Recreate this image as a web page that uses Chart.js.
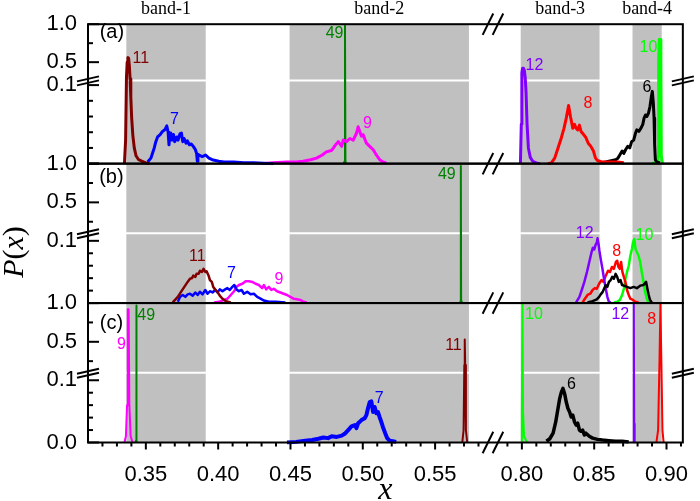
<!DOCTYPE html>
<html>
<head>
<meta charset="utf-8">
<script src="https://cdn.jsdelivr.net/npm/chart.js@4.4.1/dist/chart.umd.min.js"></script>
<style>
  html, body { margin: 0; padding: 0; background: #fff; }
  canvas { display: block; }
</style>
</head>
<body>
<canvas id="chart" width="700" height="501"></canvas>
<script>
// ---- axis setup -------------------------------------------------------
const xSegments = [[0.31, 0.59], [0.78, 0.9113]];   // broken x axis
const xTickValues = [0.32, 0.33, 0.34, 0.35, 0.36, 0.37, 0.38, 0.39, 0.40, 0.41, 0.42, 0.43, 0.44,
  0.45, 0.46, 0.47, 0.48, 0.49, 0.50, 0.51, 0.52, 0.53, 0.54, 0.55, 0.56, 0.57, 0.58,
  0.79, 0.80, 0.81, 0.82, 0.83, 0.84, 0.85, 0.86, 0.87, 0.88, 0.89, 0.90, 0.91];
const xMajorTicks = [0.35, 0.40, 0.45, 0.50, 0.55, 0.80, 0.85, 0.90];
const xMajorLabels = ['0.35', '0.40', '0.45', '0.50', '0.55', '0.80', '0.85', '0.90'];
const yTickValues = [0, 0.02, 0.04, 0.06, 0.08, 0.1, 0.25, 0.5, 0.75, 1.0];
const yTickText = ['0.0', '', '', '', '', '0.1', '', '0.5', '', '1.0'];
const yMajorTicks = [0, 0.1, 0.5, 1.0];

// shaded bands
const bandNames = ['band-1', 'band-2', 'band-3', 'band-4'];
const bandStart = [0.3365, 0.4494, 0.7992, 0.8765];
const bandEnd = [0.3914, 0.5734, 0.8537, 0.8967];

// ---- panel (a) --------------------------------------------------------
const a11 = [[0.3352,0],[0.3360,0.03],[0.3366,0.30],[0.3371,0.50],[0.3376,0.56],[0.3381,0.55],[0.3386,0.45],
  [0.3391,0.28],[0.3396,0.085],[0.3402,0.058],[0.3410,0.036],[0.3420,0.020],[0.3432,0.010],[0.3450,0.005],
  [0.3475,0.003],[0.3500,0.001],[0.3525,0]];
const a7 = [[0.3512,0.002],[0.3535,0.007],[0.3558,0.020],[0.3569,0.028],[0.3581,0.034],[0.3599,0.037],
  [0.3615,0.041],[0.3631,0.043],[0.3645,0.048],[0.3654,0.040],[0.3660,0.024],[0.3667,0.038],[0.3672,0.039],
  [0.3682,0.030],[0.3691,0.037],[0.3700,0.028],[0.3714,0.034],[0.3723,0.030],[0.3736,0.038],[0.3746,0.039],
  [0.3755,0.028],[0.3764,0.032],[0.3778,0.026],[0.3787,0.029],[0.3801,0.024],[0.3814,0.025],[0.3828,0.022],
  [0.3842,0.018],[0.3851,0.013],[0.3856,0.003],[0.3860,0.012],[0.3867,0.011],[0.3890,0.009],[0.3913,0.011],
  [0.3936,0.007],[0.3959,0.005],[0.3981,0.004],[0.4004,0.003],[0.4039,0.002],[0.4107,0.002],[0.4176,0.001],
  [0.4245,0.001],[0.4382,0]];
const a9 = [[0.4300,0],[0.4380,0.001],[0.4474,0.002],[0.4540,0.002],[0.4588,0.003],[0.4640,0.005],
  [0.4680,0.007],[0.4720,0.011],[0.4748,0.015],[0.4770,0.016],[0.4785,0.017],[0.4808,0.023],[0.4831,0.028],
  [0.4854,0.022],[0.4865,0.030],[0.4888,0.028],[0.4911,0.032],[0.4934,0.030],[0.4957,0.039],[0.4968,0.047],
  [0.4979,0.041],[0.4991,0.035],[0.5002,0.037],[0.5025,0.026],[0.5048,0.022],[0.5071,0.018],[0.5094,0.011],
  [0.5117,0.005],[0.5140,0.002],[0.5163,0.001]];
const a49 = [[0.4868,0],[0.4874,0.003],[0.4877,0.98],[0.4880,0.003],[0.4886,0]];
const a12 = [[0.7990,0],[0.7996,0.05],[0.8000,0.36],[0.8005,0.42],[0.8011,0.42],[0.8017,0.39],[0.8023,0.30],
  [0.8029,0.09],[0.8036,0.05],[0.8045,0.02],[0.8058,0.008],[0.8075,0.003],[0.8100,0.001],[0.8125,0]];
const a8 = [[0.8180,0],[0.8204,0.001],[0.8227,0.007],[0.8250,0.020],[0.8273,0.033],[0.8291,0.045],
  [0.8307,0.058],[0.8323,0.074],[0.8336,0.060],[0.8352,0.045],[0.8364,0.050],[0.8375,0.045],[0.8386,0.043],
  [0.8398,0.049],[0.8409,0.041],[0.8427,0.037],[0.8443,0.033],[0.8459,0.026],[0.8477,0.022],[0.8495,0.016],
  [0.8509,0.007],[0.8523,0.004],[0.8557,0.002],[0.8614,0.002],[0.8659,0.002],[0.8705,0.001]];
const a6 = [[0.8545,0.001],[0.8580,0.002],[0.8602,0.003],[0.8625,0.004],[0.8648,0.005],[0.8664,0.007],
  [0.8677,0.011],[0.8693,0.016],[0.8705,0.013],[0.8718,0.018],[0.8732,0.022],[0.8746,0.020],[0.8759,0.028],
  [0.8773,0.030],[0.8786,0.039],[0.8795,0.043],[0.8809,0.041],[0.8823,0.045],[0.8836,0.050],[0.8845,0.058],
  [0.8855,0.062],[0.8864,0.060],[0.8875,0.064],[0.8886,0.073],[0.8895,0.085],[0.8902,0.092],[0.8909,0.077],
  [0.8914,0.058],[0.8918,0.024],[0.8923,0.005],[0.8932,0.002],[0.8955,0.001]];
const a10 = [[0.8900,0],[0.8935,0.002],[0.8943,0.01],[0.8946,0.5],[0.8950,0.80],[0.8957,0.80],[0.8961,0.5],
  [0.8964,0.01],[0.8972,0]];

// ---- panel (b) --------------------------------------------------------
const b11 = [[0.3686,0.001],[0.3721,0.010],[0.3743,0.018],[0.3766,0.026],[0.3789,0.034],[0.3805,0.039],
  [0.3819,0.040],[0.3828,0.044],[0.3842,0.042],[0.3851,0.047],[0.3865,0.047],[0.3874,0.052],[0.3888,0.050],
  [0.3899,0.055],[0.3911,0.050],[0.3920,0.051],[0.3934,0.044],[0.3943,0.037],[0.3956,0.034],[0.3966,0.026],
  [0.3979,0.022],[0.3995,0.018],[0.4011,0.012],[0.4030,0.007],[0.4053,0.003],[0.4087,0.001]];
const b7 = [[0.3721,0.002],[0.3737,0.010],[0.3755,0.013],[0.3773,0.010],[0.3789,0.014],[0.3805,0.015],
  [0.3824,0.012],[0.3842,0.017],[0.3858,0.013],[0.3874,0.018],[0.3892,0.014],[0.3911,0.021],[0.3927,0.015],
  [0.3943,0.019],[0.3961,0.017],[0.3979,0.021],[0.3995,0.017],[0.4011,0.022],[0.4030,0.019],[0.4048,0.022],
  [0.4064,0.024],[0.4080,0.021],[0.4098,0.026],[0.4112,0.029],[0.4126,0.022],[0.4144,0.019],[0.4162,0.021],
  [0.4178,0.015],[0.4201,0.018],[0.4224,0.014],[0.4247,0.015],[0.4270,0.010],[0.4293,0.007],[0.4316,0.004],
  [0.4350,0.002],[0.4396,0.002],[0.4465,0.001]];
const b9 = [[0.3972,0.001],[0.4007,0.002],[0.4041,0.005],[0.4064,0.007],[0.4087,0.013],[0.4110,0.019],
  [0.4126,0.026],[0.4144,0.029],[0.4167,0.031],[0.4190,0.035],[0.4213,0.035],[0.4236,0.034],[0.4259,0.031],
  [0.4281,0.029],[0.4304,0.024],[0.4316,0.029],[0.4332,0.022],[0.4350,0.026],[0.4368,0.021],[0.4385,0.023],
  [0.4407,0.019],[0.4430,0.017],[0.4453,0.015],[0.4476,0.013],[0.4499,0.010],[0.4522,0.007],[0.4545,0.006],
  [0.4568,0.005],[0.4591,0.002],[0.4613,0.001]];
const b49 = [[0.5672,0],[0.5676,0.003],[0.5678,0.97],[0.5680,0.003],[0.5684,0]];
const b12 = [[0.8375,0.001],[0.8398,0.010],[0.8414,0.021],[0.8432,0.034],[0.8450,0.050],[0.8466,0.066],
  [0.8482,0.082],[0.8491,0.089],[0.8500,0.086],[0.8509,0.093],[0.8518,0.097],[0.8523,0.104],[0.8530,0.095],
  [0.8536,0.084],[0.8545,0.071],[0.8557,0.055],[0.8568,0.039],[0.8580,0.023],[0.8591,0.010],[0.8602,0.002],
  [0.8614,0.001]];
const b8 = [[0.8420,0.001],[0.8436,0.007],[0.8454,0.013],[0.8473,0.015],[0.8489,0.021],[0.8505,0.024],
  [0.8518,0.023],[0.8534,0.031],[0.8550,0.037],[0.8564,0.034],[0.8580,0.044],[0.8596,0.052],[0.8609,0.050],
  [0.8623,0.058],[0.8636,0.055],[0.8650,0.066],[0.8659,0.068],[0.8668,0.058],[0.8677,0.055],[0.8686,0.066],
  [0.8695,0.050],[0.8705,0.042],[0.8716,0.034],[0.8727,0.021],[0.8739,0.013],[0.8750,0.007],[0.8768,0.005],
  [0.8784,0.002],[0.8807,0.001]];
const b6 = [[0.8454,0.001],[0.8489,0.003],[0.8518,0.006],[0.8534,0.010],[0.8545,0.014],[0.8559,0.018],
  [0.8568,0.023],[0.8580,0.029],[0.8591,0.026],[0.8602,0.034],[0.8614,0.037],[0.8625,0.042],[0.8636,0.039],
  [0.8648,0.047],[0.8659,0.042],[0.8670,0.034],[0.8682,0.037],[0.8693,0.029],[0.8705,0.028],[0.8727,0.026],
  [0.8750,0.024],[0.8773,0.026],[0.8795,0.024],[0.8818,0.028],[0.8841,0.029],[0.8859,0.034],[0.8868,0.023],
  [0.8877,0.013],[0.8886,0.005],[0.8898,0.001]];
const b10 = [[0.8636,0.001],[0.8659,0.002],[0.8677,0.005],[0.8693,0.013],[0.8705,0.023],[0.8716,0.039],
  [0.8727,0.050],[0.8739,0.060],[0.8750,0.076],[0.8761,0.087],[0.8768,0.097],[0.8777,0.103],[0.8786,0.087],
  [0.8795,0.082],[0.8807,0.076],[0.8818,0.066],[0.8829,0.050],[0.8841,0.034],[0.8852,0.018],[0.8864,0.007],
  [0.8875,0.001]];

// ---- panel (c) --------------------------------------------------------
const c9 = [[0.3352,0],[0.3362,0.01],[0.3370,0.06],[0.3375,0.92],[0.3381,0.92],[0.3386,0.06],[0.3395,0.01],[0.3408,0]];
const c49 = [[0.3428,0],[0.3432,0.003],[0.3434,0.97],[0.3436,0.003],[0.3440,0]];
const c7 = [[0.4476,0],[0.4540,0.001],[0.4602,0.003],[0.4650,0.004],[0.4693,0.006],[0.4728,0.008],
  [0.4760,0.007],[0.4785,0.010],[0.4820,0.009],[0.4854,0.011],[0.4875,0.014],[0.4899,0.020],[0.4922,0.026],
  [0.4945,0.028],[0.4956,0.023],[0.4968,0.031],[0.4991,0.036],[0.5013,0.039],[0.5025,0.044],[0.5036,0.055],
  [0.5048,0.065],[0.5059,0.066],[0.5071,0.049],[0.5082,0.057],[0.5094,0.047],[0.5105,0.049],[0.5116,0.041],
  [0.5128,0.033],[0.5139,0.025],[0.5155,0.015],[0.5169,0.007],[0.5185,0.003],[0.5208,0.002],[0.5231,0.001]];
const c11 = [[0.5688,0],[0.5697,0.02],[0.5702,0.2],[0.5705,0.53],[0.5708,0.2],[0.5713,0.02],[0.5722,0]];
const c10 = [[0.7996,0],[0.8000,0.05],[0.8004,0.99],[0.8008,0.05],[0.8015,0.01],[0.8030,0.003],[0.8040,0]];
const c6 = [[0.8170,0.002],[0.8193,0.006],[0.8216,0.015],[0.8234,0.033],[0.8250,0.055],[0.8261,0.070],
  [0.8273,0.081],[0.8284,0.087],[0.8296,0.078],[0.8307,0.065],[0.8318,0.055],[0.8330,0.049],[0.8341,0.041],
  [0.8352,0.044],[0.8364,0.033],[0.8375,0.028],[0.8386,0.031],[0.8398,0.020],[0.8409,0.018],[0.8420,0.020],
  [0.8432,0.012],[0.8443,0.015],[0.8466,0.010],[0.8489,0.007],[0.8523,0.005],[0.8557,0.004],[0.8602,0.003],
  [0.8648,0.002],[0.8693,0.002],[0.8739,0.001]];
const c12 = [[0.8770,0],[0.8773,0.03],[0.8775,0.99],[0.8777,0.03],[0.8780,0]];
const c8 = [[0.8930,0],[0.8942,0.02],[0.8952,0.3],[0.8958,0.99],[0.8964,0.3],[0.8972,0.02],[0.8980,0]];

const seriesColor = { 6: '#000000', 7: '#0000ff', 8: '#ff0000', 9: '#ff00ff',
  10: '#00ff00', 11: '#800000', 12: '#8000ff', 49: '#008000' };

// [points, series number, panel axis, line width]
const seriesList = [
  [a11, 11, 'ya', 3], [a7, 7, 'ya', 3], [a9, 9, 'ya', 3], [a49, 49, 'ya', 2],
  [a12, 12, 'ya', 3], [a8, 8, 'ya', 3], [a6, 6, 'ya', 3], [a10, 10, 'ya', 3],
  [b11, 11, 'yb', 2.5], [b7, 7, 'yb', 2.5], [b9, 9, 'yb', 2.5], [b49, 49, 'yb', 2],
  [b6, 6, 'yb', 2.5], [b12, 12, 'yb', 2.5], [b8, 8, 'yb', 2.5], [b10, 10, 'yb', 2.5],
  [c9, 9, 'yc', 2], [c49, 49, 'yc', 2], [c7, 7, 'yc', 4], [c11, 11, 'yc', 2],
  [c10, 10, 'yc', 2], [c6, 6, 'yc', 3.5], [c12, 12, 'yc', 2], [c8, 8, 'yc', 2]
];

// text annotations: [axis, text, x value, y value]
const seriesLabels = [
  ['ya', '11', 0.3465, 0.543], ['ya', '7', 0.3698, 0.0555], ['ya', '49', 0.4805, 0.87], ['ya', '9', 0.5033, 0.0514],
  ['ya', '12', 0.8087, 0.456], ['ya', '8', 0.8457, 0.0766], ['ya', '6', 0.8864, 0.0964], ['ya', '10', 0.8875, 0.696],
  ['yb', '11', 0.3856, 0.0741], ['yb', '7', 0.4092, 0.0475], ['yb', '9', 0.4421, 0.038], ['yb', '49', 0.5581, 0.859],
  ['yb', '12', 0.8434, 0.112], ['yb', '8', 0.8656, 0.0831], ['yb', '10', 0.8848, 0.1086],
  ['yc', '9', 0.3331, 0.467], ['yc', '49', 0.3502, 0.841], ['yc', '7', 0.5113, 0.0712], ['yc', '11', 0.5627, 0.445],
  ['yc', '10', 0.8084, 0.854], ['yc', '6', 0.8343, 0.0925], ['yc', '12', 0.8681, 0.854], ['yc', '8', 0.8898, 0.79]
];
const panelLetters = [['ya', '(a)', 0.3265, 0.892], ['yb', '(b)', 0.3262, 0.817], ['yc', '(c)', 0.3262, 0.73]];

const sans = '"Liberation Sans", Arial, sans-serif';
const serif = '"Liberation Serif", "Times New Roman", serif';

// ---- scales with breaks ----------------------------------------------
class BrokenX extends Chart.LinearScale {
  determineDataLimits() {
    this.min = xSegments[0][0];
    this.max = xSegments[1][1];
  }
  buildTicks() {
    return xTickValues.map(v => ({ value: v }));
  }
  getPixelForValue(v) {
    const s0 = xSegments[0], s1 = xSegments[1];
    const w0 = s0[1] - s0[0];
    const span = w0 + (s1[1] - s1[0]);
    let d;
    if (v <= s0[1]) d = v - s0[0];
    else if (v < s1[0]) d = w0;
    else d = w0 + (v - s1[0]);
    return this.left + d / span * (this.right - this.left);
  }
  getValueForPixel(p) {
    const s0 = xSegments[0], s1 = xSegments[1];
    const w0 = s0[1] - s0[0];
    const span = w0 + (s1[1] - s1[0]);
    const d = (p - this.left) / (this.right - this.left) * span;
    return d <= w0 ? s0[0] + d : s1[0] + d - w0;
  }
  getBreakPixel() {
    return this.getPixelForValue(xSegments[0][1]);
  }
}
BrokenX.id = 'brokenX';
BrokenX.defaults = {};

class BrokenY extends Chart.LinearScale {
  determineDataLimits() {
    this.min = 0;
    this.max = 1;
  }
  buildTicks() {
    const o = this.options;
    return yTickValues.filter(v => v <= o.lowerMax || v >= o.upperMin).map(v => ({ value: v }));
  }
  getBreakPixel() {
    return this.bottom - (this.bottom - this.top) * this.options.split;
  }
  getPixelForValue(v) {
    const o = this.options;
    const yb = this.getBreakPixel();
    if (v <= o.lowerMax) return this.bottom - v / o.lowerMax * (this.bottom - yb);
    if (v < o.upperMin) return yb;
    return yb - (v - o.upperMin) / (1 - o.upperMin) * (yb - this.top);
  }
  getValueForPixel(p) {
    const o = this.options;
    const yb = this.getBreakPixel();
    if (p >= yb) return (this.bottom - p) / (this.bottom - yb) * o.lowerMax;
    return o.upperMin + (yb - p) / (yb - this.top) * (1 - o.upperMin);
  }
}
BrokenY.id = 'brokenY';
BrokenY.defaults = {};

Chart.register(BrokenX, BrokenY);

function yAxis(weight, lowerMax, upperMin, split) {
  return {
    type: 'brokenY', position: 'left', stack: 'panels', stackWeight: 1, weight: weight,
    lowerMax: lowerMax, upperMin: upperMin, split: split,
    grid: { display: false, drawTicks: false },
    border: { display: false },
    ticks: {
      autoSkip: false, padding: 11, color: '#000',
      font: { family: sans, size: 22 },
      callback: function (v) {
        if (v === 0 && this.id !== 'yc') return '';
        return yTickText[yTickValues.indexOf(v)];
      }
    },
    afterFit: s => { s.width = 88; }
  };
}

// ---- drawing of bands, frames, breaks and text ------------------------
const panelIds = ['ya', 'yb', 'yc'];

function seg(ctx, x0, y0, x1, y1) {
  ctx.beginPath();
  ctx.moveTo(x0, y0);
  ctx.lineTo(x1, y1);
  ctx.stroke();
}

function drawRuns(ctx, runs, cx, cy) {
  let w = 0;
  runs.forEach(r => { ctx.font = r[1]; w += ctx.measureText(r[0]).width; });
  let x = cx - w / 2;
  runs.forEach(r => {
    ctx.font = r[1];
    ctx.fillText(r[0], x, cy);
    x += ctx.measureText(r[0]).width;
  });
}

const overlay = {
  id: 'overlay',
  beforeDatasetsDraw(chart) {
    const { ctx, chartArea: a, scales } = chart;
    const xs = scales.x;
    ctx.save();
    ctx.fillStyle = '#c0c0c0';
    bandStart.forEach((b, i) => {
      const x0 = xs.getPixelForValue(b);
      const x1 = xs.getPixelForValue(bandEnd[i]);
      ctx.fillRect(x0, a.top, x1 - x0, a.bottom - a.top);
    });
    ctx.strokeStyle = '#fff';
    ctx.lineWidth = 2;
    panelIds.forEach(id => {
      const yb = scales[id].getBreakPixel();
      seg(ctx, a.left, yb, a.right, yb);
    });
    ctx.restore();
  },
  afterDatasetsDraw(chart) {
    const { ctx, chartArea: a, scales } = chart;
    const xs = scales.x;
    ctx.save();
    ctx.strokeStyle = '#000';
    ctx.lineCap = 'butt';

    // panel frames
    ctx.lineWidth = 2;
    panelIds.forEach(id => {
      const s = scales[id];
      ctx.strokeRect(a.left, s.top, a.right - a.left, s.bottom - s.top);
    });

    // tick marks: y inward, x outward
    ctx.lineWidth = 2;
    panelIds.forEach(id => {
      const s = scales[id];
      s.ticks.forEach(t => {
        const y = s.getPixelForValue(t.value);
        const len = yMajorTicks.includes(t.value) ? 11 : 5;
        seg(ctx, a.left, y, a.left + len, y);
      });
    });
    xs.ticks.forEach(t => {
      const px = xs.getPixelForValue(t.value);
      const len = t.label ? 7 : 4;
      seg(ctx, px, a.bottom, px, a.bottom + len);
    });

    // y breaks on both sides
    panelIds.forEach(id => {
      const yb = scales[id].getBreakPixel();
      [a.left, a.right].forEach(x => {
        seg(ctx, x - 11, yb + 1, x + 11, yb - 4);
        seg(ctx, x - 11, yb + 5, x + 11, yb);
      });
    });

    // x breaks on every horizontal border
    const bx = xs.getBreakPixel();
    const borders = [scales.ya.top, scales.ya.bottom, scales.yb.bottom, scales.yc.bottom];
    borders.forEach(y => {
      [bx - 5, bx + 5].forEach(cx => seg(ctx, cx - 5.3, y + 10.7, cx + 5.3, y - 10.7));
    });

    // series labels
    ctx.textAlign = 'center';
    ctx.textBaseline = 'middle';
    ctx.font = '16px ' + sans;
    seriesLabels.forEach(l => {
      ctx.fillStyle = seriesColor[+l[1]];
      ctx.fillText(l[1], xs.getPixelForValue(l[2]), scales[l[0]].getPixelForValue(l[3]));
    });
    ctx.fillStyle = '#000';
    ctx.font = '20px ' + sans;
    panelLetters.forEach(l => {
      ctx.fillText(l[1], xs.getPixelForValue(l[2]), scales[l[0]].getPixelForValue(l[3]));
    });

    // band names above the frame
    ctx.textBaseline = 'alphabetic';
    ctx.font = '18px ' + serif;
    bandNames.forEach((n, i) => {
      const cx = (xs.getPixelForValue(bandStart[i]) + xs.getPixelForValue(bandEnd[i])) / 2;
      ctx.fillText(n, cx, 14);
    });

    // axis titles
    ctx.textAlign = 'left';
    drawRuns(ctx, [['x', 'italic 32px ' + serif]], (a.left + a.right) / 2, 499);
    ctx.save();
    ctx.translate(23, 252);
    ctx.rotate(-Math.PI / 2);
    drawRuns(ctx, [['P', 'italic 30px ' + serif], ['(', '30px ' + serif],
      ['x', 'italic 30px ' + serif], [')', '30px ' + serif]], 0, 0);
    ctx.restore();

    ctx.restore();
  }
};

// ---- chart -------------------------------------------------------------
new Chart(document.getElementById('chart').getContext('2d'), {
  type: 'line',
  data: {
    datasets: seriesList.map(s => ({
      data: s[0].map(p => ({ x: p[0], y: p[1] })),
      borderColor: seriesColor[s[1]],
      borderWidth: s[3],
      borderJoinStyle: 'round',
      xAxisID: 'x',
      yAxisID: s[2],
      pointRadius: 0,
      tension: 0,
      fill: false
    }))
  },
  options: {
    responsive: false,
    animation: false,
    events: [],
    devicePixelRatio: 1,
    layout: { padding: { top: 20, right: 12, bottom: 0, left: 0 } },
    plugins: { legend: { display: false }, tooltip: { enabled: false } },
    scales: {
      x: {
        type: 'brokenX', position: 'bottom',
        grid: { display: false, drawTicks: false },
        border: { display: false },
        ticks: {
          autoSkip: false, maxRotation: 0, minRotation: 0, padding: 19, color: '#000',
          font: { family: sans, size: 22 },
          callback: v => {
            const i = xMajorTicks.indexOf(v);
            return i < 0 ? '' : xMajorLabels[i];
          }
        },
        afterFit: s => { s.height = 58.5; }
      },
      yc: yAxis(1, 0.112, 0.1, 0.5),
      yb: yAxis(2, 0.112, 0.1, 0.5),
      ya: yAxis(3, 0.106, 0.26, 0.597)
    }
  },
  plugins: [overlay]
});
</script>
</body>
</html>
